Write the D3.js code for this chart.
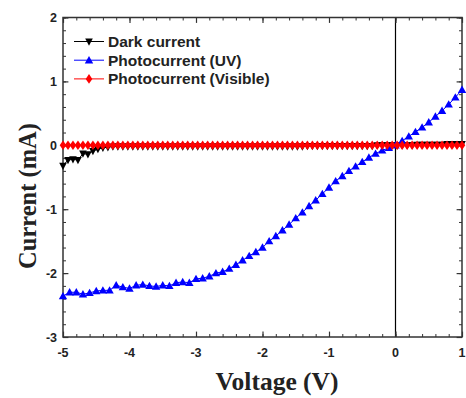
<!DOCTYPE html>
<html><head><meta charset="utf-8">
<script src="https://cdn.jsdelivr.net/npm/d3@7"></script>
<style>body{margin:0;background:#fff}svg{display:block}</style>
</head><body>
<svg id="c" width="466" height="398"></svg>
<script>
// ---- data ----
const uvVoltage = [-5.0,-4.9,-4.8,-4.7,-4.6,-4.5,-4.4,-4.3,-4.2,-4.1,-4.0,-3.9,-3.8,-3.7,-3.6,-3.5,-3.4,-3.3,-3.2,-3.1,-3.0,-2.9,-2.8,-2.7,-2.6,-2.5,-2.4,-2.3,-2.2,-2.1,-2.0,-1.9,-1.8,-1.7,-1.6,-1.5,-1.4,-1.3,-1.2,-1.1,-1.0,-0.9,-0.8,-0.7,-0.6,-0.5,-0.4,-0.3,-0.2,-0.1,0.0,0.1,0.2,0.3,0.4,0.5,0.6,0.7,0.8,0.9,1.0];
const uvCurrent = [-2.36,-2.30,-2.30,-2.33,-2.31,-2.28,-2.27,-2.27,-2.19,-2.22,-2.24,-2.19,-2.18,-2.20,-2.21,-2.19,-2.20,-2.15,-2.14,-2.15,-2.09,-2.08,-2.05,-2.00,-1.98,-1.93,-1.87,-1.80,-1.73,-1.67,-1.60,-1.50,-1.42,-1.33,-1.24,-1.14,-1.05,-0.95,-0.86,-0.76,-0.66,-0.56,-0.48,-0.40,-0.33,-0.26,-0.19,-0.13,-0.08,-0.04,0.00,0.07,0.14,0.21,0.28,0.36,0.45,0.54,0.64,0.75,0.87];
const fineVoltage = [-5.0,-4.925,-4.85,-4.775,-4.7,-4.625,-4.55,-4.475,-4.4,-4.325,-4.25,-4.175,-4.1,-4.025,-3.95,-3.875,-3.8,-3.725,-3.65,-3.575,-3.5,-3.425,-3.35,-3.275,-3.2,-3.125,-3.05,-2.975,-2.9,-2.825,-2.75,-2.675,-2.6,-2.525,-2.45,-2.375,-2.3,-2.225,-2.15,-2.075,-2.0,-1.925,-1.85,-1.775,-1.7,-1.625,-1.55,-1.475,-1.4,-1.325,-1.25,-1.175,-1.1,-1.025,-0.95,-0.875,-0.8,-0.725,-0.65,-0.575,-0.5,-0.425,-0.35,-0.275,-0.2,-0.125,-0.05,0.025,0.1,0.175,0.25,0.325,0.4,0.475,0.55,0.625,0.7,0.775,0.85,0.925,1.0];
const darkCurrent = [-0.32,-0.23,-0.22,-0.23,-0.13,-0.14,-0.09,-0.06,-0.04,-0.03,-0.02,-0.02,-0.02,-0.02,-0.02,-0.02,-0.02,-0.02,-0.02,-0.02,-0.02,-0.02,-0.02,-0.02,-0.02,-0.02,-0.02,-0.02,-0.02,-0.02,-0.02,-0.02,-0.02,-0.02,-0.02,-0.02,-0.02,-0.02,-0.02,-0.02,-0.02,-0.02,-0.02,-0.02,-0.02,-0.02,-0.02,-0.02,-0.02,-0.01,-0.01,-0.01,-0.01,-0.01,-0.01,-0.01,-0.01,-0.01,-0.01,-0.01,-0.01,-0.01,-0.01,0.00,0.00,0.00,0.00,0.00,0.00,0.00,0.00,0.01,0.01,0.01,0.01,0.01,0.01,0.02,0.02,0.02,0.02];
const visCurrent = [0.00,0.00,0.00,0.00,0.00,0.00,0.00,0.00,0.00,0.00,0.00,0.00,0.00,0.00,0.00,0.00,0.00,0.00,0.00,0.00,0.00,0.00,0.00,0.00,0.00,0.00,0.00,0.00,0.00,0.00,0.00,0.00,0.00,0.00,0.00,0.00,0.00,0.00,0.00,0.00,0.00,0.00,0.00,0.00,0.00,0.00,0.00,0.00,0.00,0.00,0.00,0.00,0.00,0.00,0.00,0.00,0.00,0.00,0.00,0.00,0.00,0.00,0.00,0.00,0.00,0.00,0.00,0.00,0.00,0.00,0.00,0.00,0.00,0.00,0.00,0.00,0.00,0.00,0.00,0.00,0.00];
const xTicks = [-5,-4,-3,-2,-1,0,1];
const yTicks = [-3,-2,-1,0,1,2];
const legendLabels = ["Dark current","Photocurrent (UV)","Photocurrent (Visible)"];

// ---- layout ----
const svg = d3.select("#c");
const L=63, R=462, T=17.5, B=337;
const x = d3.scaleLinear().domain([-5,1]).range([L,R]);
const y = d3.scaleLinear().domain([-3,2]).range([B,T]);
const minorX = d3.range(-5,1.0001,0.2).map(v=>+v.toFixed(2));
const minorY = d3.range(-3,2.0001,0.2).map(v=>+v.toFixed(2));

// zero lines
svg.append("line").attr("x1",x(0)).attr("x2",x(0)).attr("y1",T).attr("y2",B).attr("stroke","#000").attr("stroke-width",1.2);
svg.append("line").attr("x1",L).attr("x2",R).attr("y1",y(0)).attr("y2",y(0)).attr("stroke","#000").attr("stroke-width",1);

// axes (ticks inward)
function ax(gen, tr, ticks, minor, size){
  const g = svg.append("g").attr("transform",tr)
    .call(gen.tickValues(minor).tickSize(size).tickFormat(""));
  g.selectAll(".tick line").attr("stroke","#333").attr("stroke-width",1);
  g.select(".domain").remove();
  const g2 = svg.append("g").attr("transform",tr)
    .call(gen.tickValues(ticks).tickSize(size*1.8).tickFormat(""));
  g2.select(".domain").remove();
  g2.selectAll(".tick line").attr("stroke","#333").attr("stroke-width",1.2);
  return g2;
}
ax(d3.axisTop(x), `translate(0,${B})`, xTicks, minorX, 3);
ax(d3.axisBottom(x), `translate(0,${T})`, xTicks, minorX, 3);
ax(d3.axisRight(y), `translate(${L},0)`, yTicks, minorY, 3);
ax(d3.axisLeft(y), `translate(${R},0)`, yTicks, minorY, 3);
// tick labels
svg.append("g").selectAll("text").data(xTicks).join("text")
  .attr("x",d=>x(d)).attr("y",B+20).attr("text-anchor","middle")
  .attr("font-family","Liberation Sans, Arial, sans-serif").attr("font-weight","bold").attr("font-size",12.5).attr("fill","#222")
  .text(d=>d);
svg.append("g").selectAll("text").data(yTicks).join("text")
  .attr("x",L-6).attr("y",d=>y(d)+4.5).attr("text-anchor","end")
  .attr("font-family","Liberation Sans, Arial, sans-serif").attr("font-weight","bold").attr("font-size",12.5).attr("fill","#222")
  .text(d=>d);
// frame
svg.append("rect").attr("x",L).attr("y",T).attr("width",R-L).attr("height",B-T)
  .attr("fill","none").attr("stroke","#333").attr("stroke-width",1.5);

// series
const series = [
  {v:fineVoltage, c:darkCurrent, color:"#000", sym:"down"},
  {v:uvVoltage, c:uvCurrent, color:"#0000ff", sym:"up"},
  {v:fineVoltage, c:visCurrent, color:"#ff0000", sym:"diamond"}
];
function marker(g, sym, color, px, py){
  if(sym==="up") g.append("path").attr("d",`M${px},${py-4.2}L${px+4.2},${py+3.2}L${px-4.2},${py+3.2}Z`).attr("fill",color);
  else if(sym==="down") g.append("path").attr("d",`M${px},${py+4.2}L${px+3.8},${py-3}L${px-3.8},${py-3}Z`).attr("fill",color);
  else g.append("path").attr("d",`M${px},${py-4.8}L${px+3.3},${py}L${px},${py+4.8}L${px-3.3},${py}Z`).attr("fill",color);
}
series.forEach(s=>{
  const pts = s.v.map((v,i)=>[v,s.c[i]]);
  svg.append("path").datum(pts)
    .attr("d",d3.line().x(d=>x(d[0])).y(d=>y(d[1])))
    .attr("fill","none").attr("stroke",s.color).attr("stroke-width",1);
  const g = svg.append("g");
  pts.forEach(p=>marker(g,s.sym,s.color,x(p[0]),y(p[1])));
});

// legend
const lg = svg.append("g");
legendLabels.forEach((t,i)=>{
  const ly = 41.5 + i*18.7;
  lg.append("line").attr("x1",74).attr("x2",104).attr("y1",ly).attr("y2",ly).attr("stroke",series[i].color).attr("stroke-width",1);
  marker(lg, series[i].sym, series[i].color, 89, ly);
  lg.append("text").attr("x",108).attr("y",ly+5.5).attr("font-family","Liberation Sans, Arial, sans-serif")
    .attr("font-weight","bold").attr("font-size",15.5).attr("fill","#222").text(t);
});

// axis titles
svg.append("text").attr("x",277).attr("y",390).attr("text-anchor","middle")
  .attr("font-family","Liberation Serif, Times New Roman, serif").attr("font-weight","bold").attr("font-size",25.5).attr("fill","#222")
  .text("Voltage (V)");
svg.append("text").attr("transform",`translate(36,196) rotate(-90)`).attr("text-anchor","middle")
  .attr("font-family","Liberation Serif, Times New Roman, serif").attr("font-weight","bold").attr("font-size",24.5).attr("fill","#222")
  .text("Current (mA)");
</script>
</body></html>
